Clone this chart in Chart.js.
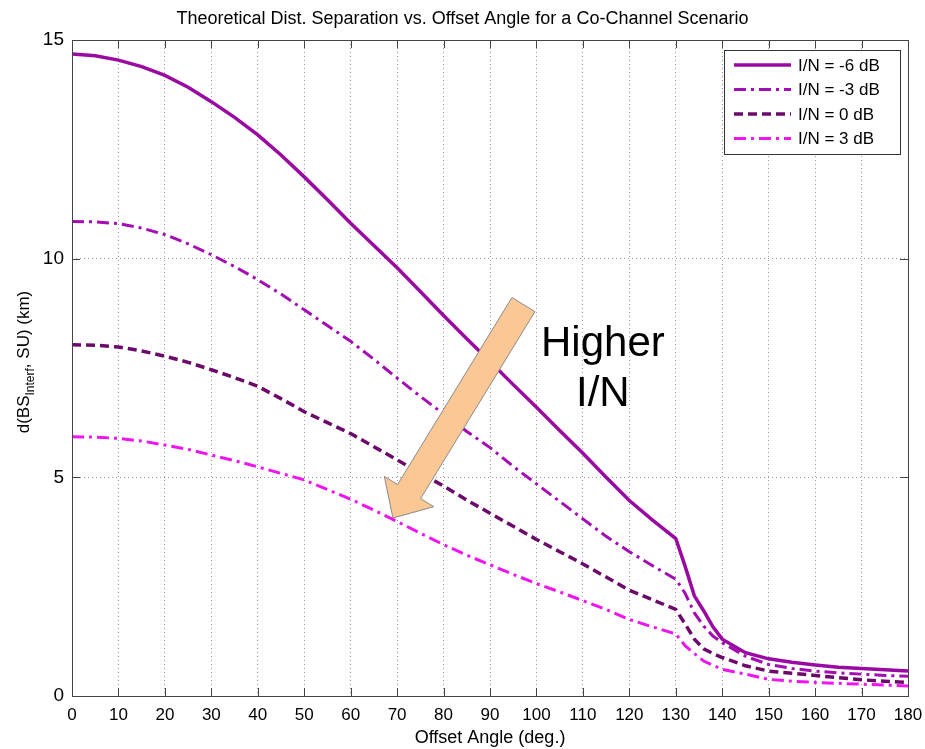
<!DOCTYPE html>
<html>
<head>
<meta charset="utf-8">
<script src="https://cdn.jsdelivr.net/npm/chart.js@4.4.1/dist/chart.umd.min.js"></script>
<style>
  html, body { margin: 0; padding: 0; background: #fff; }
  canvas { display: block; }
</style>
</head>
<body>
<canvas id="myChart" width="925" height="749"></canvas>
<script>
// offset angle (deg.)
const angles = [0, 5, 10, 15, 20, 25, 30, 35, 40, 45, 50, 55, 60, 65, 70, 75, 80, 85, 90, 95,
  100, 105, 110, 115, 120, 125, 130, 132, 134, 136, 138, 140, 145, 150, 155, 160, 165, 170, 175, 180];

// distance separation (km) per I/N
const inMinus6 = [14.68, 14.64, 14.54, 14.39, 14.19, 13.92, 13.59, 13.23, 12.83, 12.37, 11.87, 11.35, 10.81, 10.30, 9.79, 9.25, 8.70, 8.17, 7.65, 7.12,
  6.60, 6.07, 5.55, 5.00, 4.47, 4.02, 3.60, 2.97, 2.29, 1.95, 1.58, 1.30, 0.99, 0.85, 0.77, 0.71, 0.66, 0.63, 0.60, 0.57];
const inMinus3 = [10.85, 10.84, 10.80, 10.70, 10.55, 10.34, 10.09, 9.82, 9.52, 9.19, 8.83, 8.47, 8.11, 7.70, 7.27, 6.85, 6.45, 6.05, 5.68, 5.25,
  4.85, 4.45, 4.05, 3.65, 3.30, 2.98, 2.67, 2.35, 1.90, 1.60, 1.37, 1.22, 0.91, 0.72, 0.63, 0.57, 0.53, 0.50, 0.47, 0.45];
const inZero = [8.03, 8.02, 7.98, 7.89, 7.77, 7.63, 7.46, 7.28, 7.08, 6.80, 6.50, 6.25, 6.00, 5.70, 5.40, 5.10, 4.80, 4.48, 4.18, 3.88,
  3.58, 3.30, 3.02, 2.72, 2.42, 2.20, 1.98, 1.65, 1.30, 1.08, 0.97, 0.88, 0.69, 0.57, 0.52, 0.47, 0.42, 0.37, 0.34, 0.31];
const inPlus3 = [5.93, 5.92, 5.89, 5.83, 5.74, 5.64, 5.51, 5.38, 5.24, 5.09, 4.94, 4.72, 4.50, 4.25, 3.99, 3.72, 3.46, 3.22, 3.00, 2.78,
  2.57, 2.38, 2.18, 1.98, 1.75, 1.58, 1.42, 1.15, 0.97, 0.80, 0.70, 0.61, 0.50, 0.38, 0.34, 0.31, 0.29, 0.27, 0.25, 0.23];

const seriesLabels = ['I/N = -6 dB', 'I/N = -3 dB', 'I/N = 0 dB', 'I/N = 3 dB'];
const xTicks = [0, 10, 20, 30, 40, 50, 60, 70, 80, 90, 100, 110, 120, 130, 140, 150, 160, 170, 180];
const yTicks = [0, 5, 10, 15];

const FONT = "'Liberation Sans', Arial, sans-serif";

function pts(vals) {
  return angles.map((a, i) => ({ x: a, y: vals[i] }));
}

// frame, inward ticks and y title with subscript
const framePlugin = {
  id: 'frame',
  afterDraw(chart) {
    const { ctx, chartArea: a, scales } = chart;
    ctx.save();
    ctx.strokeStyle = '#444';
    ctx.lineWidth = 1;
    ctx.strokeRect(a.left + 0.5, a.top + 0.5, a.right - a.left, a.bottom - a.top);
    ctx.beginPath();
    xTicks.forEach(t => {
      const px = Math.round(scales.x.getPixelForValue(t)) + 0.5;
      ctx.moveTo(px, a.bottom); ctx.lineTo(px, a.bottom - 8);
      ctx.moveTo(px, a.top); ctx.lineTo(px, a.top + 8);
    });
    yTicks.forEach(t => {
      const py = Math.round(scales.y.getPixelForValue(t)) + 0.5;
      ctx.moveTo(a.left, py); ctx.lineTo(a.left + 8, py);
      ctx.moveTo(a.right, py); ctx.lineTo(a.right - 8, py);
    });
    ctx.stroke();

    // y axis title: d(BS_Interf, SU) (km)
    ctx.translate(23, (a.top + a.bottom) / 2 - 6);
    ctx.rotate(-Math.PI / 2);
    ctx.fillStyle = '#000';
    ctx.textBaseline = 'alphabetic';
    const big = '17px ' + FONT, small = '12px ' + FONT;
    const parts = [['d(BS', big, 0], ['Interf', small, 5], [', SU) (km)', big, 0]];
    let w = 0;
    parts.forEach(p => { ctx.font = p[1]; w += ctx.measureText(p[0]).width; });
    let x = -w / 2;
    parts.forEach(p => {
      ctx.font = p[1];
      ctx.fillText(p[0], x, 6 + p[2]);
      x += ctx.measureText(p[0]).width;
    });
    ctx.restore();
  }
};

// boxed legend, top right
const legendPlugin = {
  id: 'boxLegend',
  afterDraw(chart) {
    const { ctx, chartArea: a } = chart;
    const bx = a.right - 184, by = a.top + 10, bw = 176, bh = 104;
    ctx.save();
    ctx.fillStyle = '#fff';
    ctx.fillRect(bx, by, bw, bh);
    ctx.strokeStyle = '#333';
    ctx.lineWidth = 1;
    ctx.strokeRect(bx + 0.5, by + 0.5, bw, bh);
    chart.data.datasets.forEach((ds, i) => {
      const y = by + 15 + i * 24.5;
      ctx.strokeStyle = ds.borderColor;
      ctx.lineWidth = ds.borderWidth;
      ctx.setLineDash(ds.borderDash || []);
      ctx.beginPath();
      ctx.moveTo(bx + 10, y);
      ctx.lineTo(bx + 67, y);
      ctx.stroke();
      ctx.setLineDash([]);
      ctx.fillStyle = '#000';
      ctx.font = '17px ' + FONT;
      ctx.textBaseline = 'middle';
      ctx.fillText(ds.label, bx + 74, y + 1);
    });
    ctx.restore();
  }
};

// "Higher I/N" arrow annotation
const arrowPlugin = {
  id: 'arrow',
  afterDatasetsDraw(chart) {
    const { ctx, scales } = chart;
    const tx = scales.x.getPixelForValue(97.2), ty = scales.y.getPixelForValue(8.95);
    const hx = scales.x.getPixelForValue(69.1), hy = scales.y.getPixelForValue(4.07);
    const dx = hx - tx, dy = hy - ty, len = Math.hypot(dx, dy);
    const ux = dx / len, uy = dy / len, nx = -uy, ny = ux;
    const sw = 13.5, hw = 29, hl = 31;
    const bx = hx - ux * hl, by = hy - uy * hl;
    ctx.save();
    ctx.beginPath();
    ctx.moveTo(tx + nx * sw, ty + ny * sw);
    ctx.lineTo(bx + nx * sw, by + ny * sw);
    ctx.lineTo(bx + nx * hw, by + ny * hw);
    ctx.lineTo(hx, hy);
    ctx.lineTo(bx - nx * hw, by - ny * hw);
    ctx.lineTo(bx - nx * sw, by - ny * sw);
    ctx.lineTo(tx - nx * sw, ty - ny * sw);
    ctx.closePath();
    ctx.fillStyle = '#fbc794';
    ctx.fill();
    ctx.strokeStyle = '#8a8a8a';
    ctx.lineWidth = 1;
    ctx.stroke();

    ctx.fillStyle = '#000';
    ctx.font = '42px ' + FONT;
    ctx.textAlign = 'center';
    ctx.textBaseline = 'alphabetic';
    const cx = scales.x.getPixelForValue(114.3);
    ctx.fillText('Higher', cx, scales.y.getPixelForValue(7.78));
    ctx.fillText('I/N', cx, scales.y.getPixelForValue(6.64));
    ctx.restore();
  }
};

const ctx = document.getElementById('myChart').getContext('2d');
const myChart = new Chart(ctx, {
  type: 'line',
  data: {
    datasets: [{
      label: seriesLabels[0],
      data: pts(inMinus6),
      borderColor: '#9a0aa3',
      borderWidth: 3.5,
      borderDash: []
    }, {
      label: seriesLabels[1],
      data: pts(inMinus3),
      borderColor: '#a30db3',
      borderWidth: 3,
      borderDash: [12, 5, 3, 5]
    }, {
      label: seriesLabels[2],
      data: pts(inZero),
      borderColor: '#6c0a6c',
      borderWidth: 3.5,
      borderDash: [9, 5]
    }, {
      label: seriesLabels[3],
      data: pts(inPlus3),
      borderColor: '#f014f0',
      borderWidth: 3,
      borderDash: [12, 5, 3, 5]
    }]
  },
  options: {
    responsive: false,
    animation: false,
    devicePixelRatio: 1,
    layout: { padding: 0 },
    elements: {
      point: { radius: 0 },
      line: { tension: 0, fill: false }
    },
    scales: {
      x: {
        type: 'linear',
        min: 0,
        max: 180,
        afterBuildTicks(scale) { scale.ticks = xTicks.map(v => ({ value: v })); },
        afterFit(scale) { scale.height = 53; scale.paddingRight = 17; scale.paddingLeft = 0; },
        grid: { color: '#9a9a9a', drawTicks: false, lineWidth: 1 },
        border: { display: false, dash: [1, 3] },
        ticks: {
          color: '#000',
          padding: 9,
          maxRotation: 0,
          autoSkip: false,
          font: { size: 17, family: FONT }
        },
        title: {
          display: true,
          text: 'Offset Angle (deg.)',
          color: '#000',
          padding: { top: 0, bottom: 0 },
          font: { size: 18, family: FONT }
        }
      },
      y: {
        type: 'linear',
        min: 0,
        max: 15,
        afterBuildTicks(scale) { scale.ticks = yTicks.map(v => ({ value: v })); },
        afterFit(scale) { scale.width = 72; },
        grid: { color: '#9a9a9a', drawTicks: false, lineWidth: 1 },
        border: { display: false, dash: [1, 3] },
        ticks: {
          color: '#000',
          padding: 8,
          font: { size: 19, family: FONT }
        }
      }
    },
    plugins: {
      legend: { display: false },
      tooltip: { enabled: false },
      title: {
        display: true,
        text: 'Theoretical Dist. Separation vs. Offset Angle for a Co-Channel Scenario',
        color: '#000',
        padding: { top: 8, bottom: 10.4 },
        font: { size: 18, weight: 'normal', family: FONT, lineHeight: 1.2 }
      }
    }
  },
  plugins: [arrowPlugin, framePlugin, legendPlugin]
});
</script>
</body>
</html>
